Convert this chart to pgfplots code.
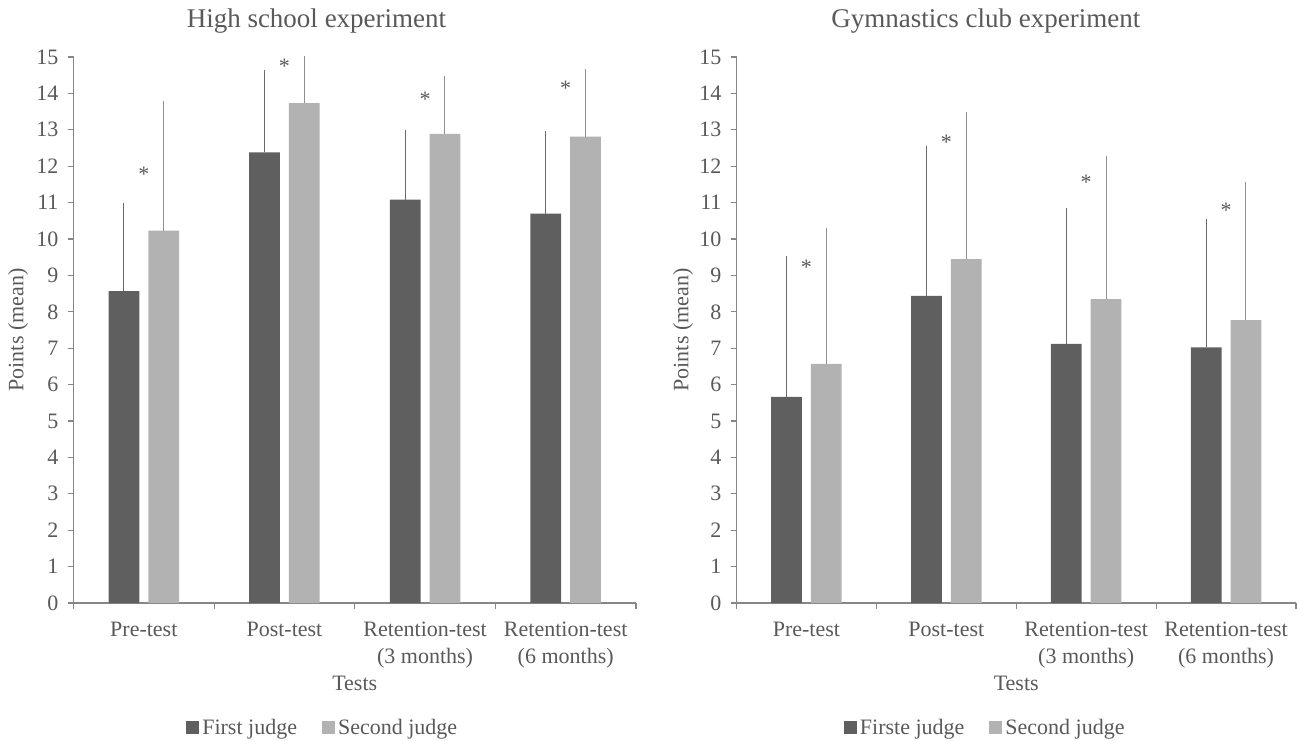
\documentclass[border=0pt]{standalone}
\usepackage{fontspec}
\setmainfont{Liberation Serif}
\usepackage{pgfplots}
\pgfplotsset{compat=1.18}
\definecolor{darkbar}{HTML}{5F5F5F}
\definecolor{lightbar}{HTML}{B2B2B2}
\definecolor{txt}{HTML}{595959}
\definecolor{axl}{HTML}{868686}
\definecolor{errdark}{HTML}{6A6A6A}
\definecolor{errlight}{HTML}{8F8F8F}

\pgfplotsset{
  myaxis/.style={
    ybar, bar width=15.35pt,
    scale only axis, height=273pt,
    xmin=-0.5, xmax=3.5, ymin=0, ymax=15,
    axis x line*=bottom, axis y line*=left,
    axis line style={axl, line width=0.6pt},
    every tick/.style={axl, line width=0.6pt},
    tick align=outside, major tick length=3pt,
    ytick={0,1,...,15},
    xtick={-0.5,0.5,1.5,2.5,3.5}, xticklabels={},
    extra x ticks={0,1,2,3},
    extra x tick labels={Pre-test,Post-test,{Retention-test\\(3 months)},{Retention-test\\(6 months)}},
    extra x tick style={major tick length=0pt, xticklabel style={align=center, anchor=north, yshift=-6pt}},
    tick label style={font=\fontsize{11}{13.5}\selectfont, text=txt},
    yticklabel style={xshift=-1pt},
    /pgf/number format/assume math mode=true,
    label style={font=\fontsize{11}{12}\selectfont, text=txt},
    every axis title/.style={font=\fontsize{13.5}{15}\selectfont, text=txt, anchor=center},
    xlabel={Tests},
    xlabel style={at={(axis description cs:0.5,-0.148)}, anchor=center},
    ylabel={Points (mean)},
    legend columns=2,
    legend style={draw=none, fill=none, font=\fontsize{11}{12}\selectfont, text=txt, anchor=center,
      /tikz/every even column/.append style={column sep=11pt},
      inner sep=0pt, nodes={inner sep=1.5pt}},
    legend image code/.code={\fill[##1] (0pt,-3pt) rectangle (6.5pt,3.5pt);},
    clip=true,
  },
  firstbar/.style={bar shift=-9.95pt, fill=darkbar, draw=none,
    error bars/.cd, y dir=plus, y explicit,
    error bar style={color=errdark, line width=0.5pt},
    error mark options={errdark, mark size=1.3pt, line width=0.5pt}},
  secondbar/.style={bar shift=9.95pt, fill=lightbar, draw=none,
    error bars/.cd, y dir=plus, y explicit,
    error bar style={color=errlight, line width=0.5pt},
    error mark options={errlight, mark size=1.3pt, line width=0.5pt}},
  stars/.style={draw=none, fill=none, bar shift=0pt, mark=none, forget plot, nodes near coords={*},
    every node near coord/.append style={anchor=center, font=\fontsize{11}{12}\selectfont, text=txt}},
}

\begin{document}
\begin{tikzpicture}
\useasboundingbox (0,0) rectangle (648.5pt,370pt);

\begin{axis}[myaxis, width=281.25pt, at={(36.75pt,68.5pt)}, anchor=south west,
  title={High school experiment},
  title style={at={(axis description cs:0.432,1.065)}},
  ylabel style={at={(axis description cs:-0.0987,0.5)}, anchor=center},
  legend style={at={(axis description cs:0.444,-0.229)}}]
\addplot[firstbar] coordinates {(0,8.57) +- (0,2.36) (1,12.38) +- (0,2.18) (2,11.08) +- (0,1.85) (3,10.70) +- (0,2.19)};
\addplot[secondbar] coordinates {(0,10.23) +- (0,3.49) (1,13.73) +- (0,1.6) (2,12.89) +- (0,1.51) (3,12.81) +- (0,1.78)};
\addplot[stars] coordinates {(0,11.77) (1,14.74) (2,13.84) (3,14.14)};
\legend{First judge, Second judge}
\end{axis}

\begin{axis}[myaxis, width=279.75pt, at={(368.25pt,68.5pt)}, anchor=south west,
  title={Gymnastics club experiment},
  title style={at={(axis description cs:0.4455,1.065)}},
  ylabel style={at={(axis description cs:-0.0955,0.5)}, anchor=center},
  legend style={at={(axis description cs:0.4455,-0.229)}}]
\addplot[firstbar] coordinates {(0,5.66) +- (0,3.80) (1,8.44) +- (0,4.04) (2,7.12) +- (0,3.65) (3,7.02) +- (0,3.47)};
\addplot[secondbar] coordinates {(0,6.57) +- (0,3.65) (1,9.45) +- (0,3.98) (2,8.35) +- (0,3.87) (3,7.77) +- (0,3.73)};
\addplot[stars] coordinates {(0,9.22) (1,12.66) (2,11.56) (3,10.78)};
\legend{Firste judge, Second judge}
\end{axis}
\end{tikzpicture}
\end{document}
